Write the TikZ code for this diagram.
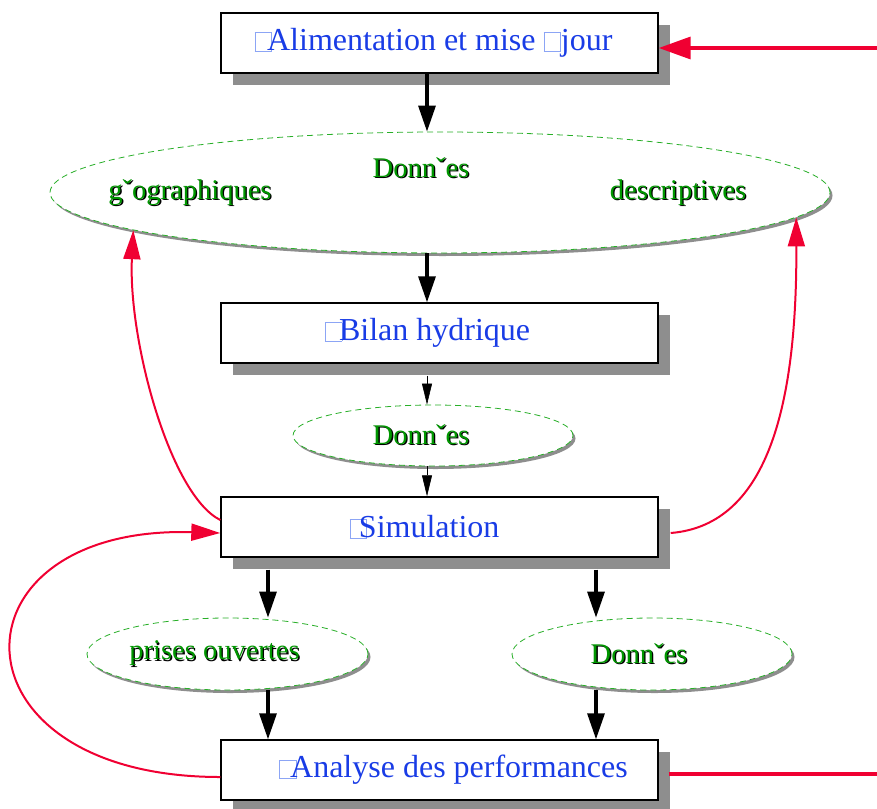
\documentclass[tikz,border=0pt]{standalone}
\usepackage{fontspec}
\setmainfont{Liberation Serif}
\usetikzlibrary{arrows.meta, shapes.geometric, shadows}
\definecolor{boxblue}{RGB}{25,60,230}
\definecolor{tofublue}{RGB}{140,165,245}
\definecolor{datagreen}{RGB}{0,150,0}
\definecolor{dashgreen}{RGB}{40,175,40}
\definecolor{linkred}{RGB}{240,0,50}
\definecolor{shgray}{RGB}{142,142,142}
\newcommand{\tofu}{{\color{tofublue}\setlength{\fboxsep}{0pt}\setlength{\fboxrule}{0.7pt}\fbox{\rule{0pt}{0.55em}\hspace{0.5em}}}}
\newcommand{\shtxt}[1]{\makebox[0pt][l]{\color{black}\kern1.3pt\raisebox{-1.3pt}{#1}}#1}

\tikzset{
	procbox/.style={draw, line width=1.4pt, fill=white, minimum width=437pt, minimum height=60pt, inner sep=0pt, text=boxblue, font=\fontsize{32}{37}\selectfont, drop shadow={shadow xshift=12pt, shadow yshift=-12pt, fill=shgray, opacity=1}},
	dataell/.style={ellipse, draw=dashgreen, dash pattern=on 6pt off 4pt, line width=0.8pt, fill=white, inner sep=0pt, text=datagreen, font=\fontsize{28.5}{33}\selectfont, drop shadow={shadow xshift=2.5pt, shadow yshift=-3pt, fill=shgray, opacity=1}},
	datatxt/.style={text=datagreen, font=\fontsize{28.5}{33}\selectfont, inner sep=0pt},
	bigarrow/.style={line width=3.2pt, -{Triangle[length=26pt, width=17pt]}},
	thinarrow/.style={line width=0.6pt, -{Triangle[length=21pt, width=10pt]}},
	redarrow/.style={linkred, line width=3.5pt, -{Triangle[length=32pt, width=22pt]}},
	redline/.style={linkred, line width=3.5pt},
	redcurve/.style={linkred, line width=2pt, -{Triangle[length=29pt, width=17pt]}}
}

\begin{document}
\begin{tikzpicture}[x=1pt, y=-1pt]
		\useasboundingbox (0,0) rectangle (877,808);
		\coordinate (mc) at (427,0);
		\coordinate (lc) at (268,0);
		\coordinate (rc) at (596,0);
		\coordinate (feed) at (877,48);
		\coordinate (report) at (877,774);
		% processes and data
		\node[procbox] (alim) at (439.5,43) {\tofu\kern-0.15em Alimentation et mise \tofu jour\kern12pt};
		\node[dataell, minimum width=780pt, minimum height=121pt] (data) at (440,192.5) {};
		\node[datatxt] (datat) at (421,168) {\shtxt{Donnˇes}};
		\node[datatxt] (geo) at (190,193) {\shtxt{gˇographiques}};
		\node[datatxt] (desc) at (678,193) {\shtxt{descriptives}};
		\node[procbox] (bilan) at (439.5,333) {\tofu\kern-0.1em Bilan hydrique\kern24pt};
		\node[dataell, minimum width=280pt, minimum height=61pt] (ell2) at (433,435.5) {\shtxt{Donnˇes}\kern24pt};
		\node[procbox] (sim) at (439.5,527) {\tofu\kern-0.25em Simulation\kern30pt};
		\node[dataell, minimum width=281pt, minimum height=72pt] (prises) at (227.5,654) {\shtxt{prises ouvertes}\kern26pt};
		\node[dataell, minimum width=280pt, minimum height=72pt] (donr) at (652,654) {\shtxt{Donnˇes}\kern26pt};
		\node[procbox] (ana) at (439.5,770) {\kern28pt\tofu\kern-0.2em Analyse des performances};
		% flow
		\draw[bigarrow] (alim.south -| mc) -- (data.north -| mc);
		\draw[bigarrow] (data.south -| mc) -- (bilan.north -| mc);
		\draw[thinarrow] (bilan.south -| mc) ++(0,12) -- (ell2.north -| mc);
		\draw[thinarrow] (ell2.south -| mc) -- (sim.north -| mc);
		\draw[bigarrow] (sim.south -| lc) ++(0,12) -- (prises.north -| lc);
		\draw[bigarrow] (sim.south -| rc) ++(0,12) -- (donr.north -| rc);
		\draw[bigarrow] (prises.south -| lc) -- (ana.north -| lc);
		\draw[bigarrow] (donr.south -| rc) -- (ana.north -| rc);
		% feedback
		\draw[redarrow] (feed) -- (feed -| alim.east);
		\draw[redline] (report -| ana.east) ++(10,0) -- (report);
		\draw[redcurve] ([yshift=7pt]sim.west) .. controls (170,495) and (128,340) .. (data.187);
		\draw[redcurve] ([xshift=12pt,yshift=-6pt]sim.east) .. controls (770,525) and (797,400) .. (data.-4.2);
		\draw[redcurve] ([yshift=-7pt]ana.west) .. controls (-56,777) and (-56,525) .. ([yshift=-6pt]sim.west);
\end{tikzpicture}
\end{document}
